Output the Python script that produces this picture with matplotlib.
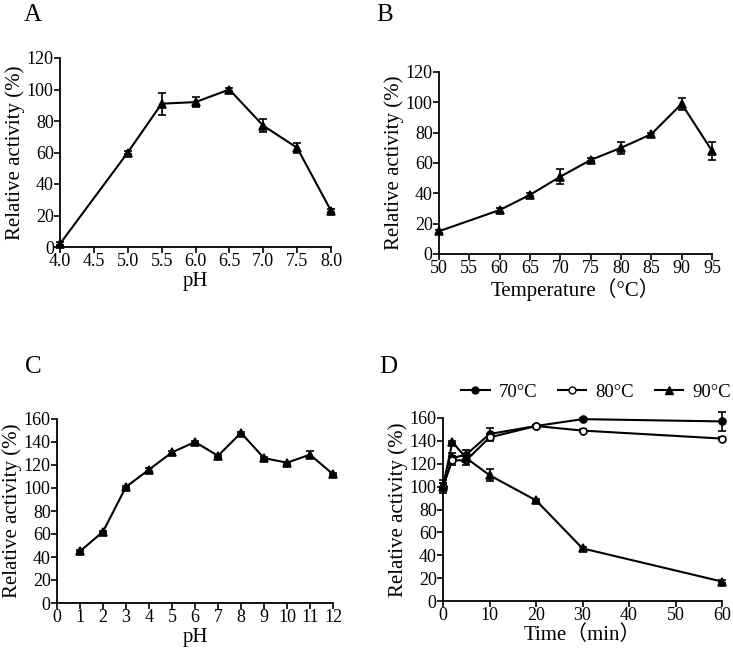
import numpy as np
import matplotlib
matplotlib.use("Agg")
import matplotlib.pyplot as plt

plt.rcParams["font.family"] = ["Liberation Serif", "Noto Sans CJK SC"]

# --- A: pH optimum ---
ph_a = [4.0, 5.0, 5.5, 6.0, 6.5, 7.0, 7.5, 8.0]
act_a = [2, 60, 91, 92, 100, 77, 63, 23]
err_a = [1, 1, 7, 3, 1, 4, 3, 1]
ph_a_ticks = [4.0, 4.5, 5.0, 5.5, 6.0, 6.5, 7.0, 7.5, 8.0]

# --- B: temperature optimum ---
temp_b = [50, 60, 65, 70, 75, 80, 85, 90, 95]
act_b = [15, 29, 39, 51, 62, 70, 79, 99, 68]
err_b = [1, 1, 1, 5, 1, 4, 1, 4, 6]
temp_b_ticks = [50, 55, 60, 65, 70, 75, 80, 85, 90, 95]

# --- C: pH stability ---
ph_c = [1, 2, 3, 4, 5, 6, 7, 8, 9, 10, 11, 12]
act_c = [45, 62, 101, 116, 131, 140, 128, 148, 126, 122, 129, 112]
err_c = [1, 1, 1, 1, 1, 1, 1, 1, 1, 1, 3, 1]

# --- D: thermostability ---
time_d = [0, 2, 5, 10, 20, 30, 60]
act_70 = [100, 125, 128, 146, 153, 159, 157]
err_70 = [3, 4, 4, 5, 1, 1, 8]
act_80 = [100, 123, 123, 143, 153, 149, 142]
err_80 = [6, 4, 4, 3, 1, 1, 1]
act_90 = [100, 139, 125, 110, 88, 46, 17]
err_90 = [3, 1, 3, 5, 1, 1, 1]

fig = plt.figure(figsize=(7.33, 6.53), dpi=100)
W, H = 733, 653


def make_ax(x0, x1, ytop, ybot):
    return fig.add_axes([x0 / W, 1 - ybot / H, (x1 - x0) / W, (ybot - ytop) / H])


def style(ax):
    for s in ["top", "right"]:
        ax.spines[s].set_visible(False)
    for s in ["left", "bottom"]:
        ax.spines[s].set_linewidth(1.3)
    ax.tick_params(direction="out", length=4, width=1.2, labelsize=13, pad=0.5)


def series(ax, x, y, e, marker="^", mfc="black", ms=6):
    ax.errorbar(x, y, yerr=e, color="black", lw=1.5, marker=marker, ms=ms,
                mfc=mfc, mec="black", mew=1.2, capsize=3, elinewidth=1.2,
                capthick=1.2, clip_on=False, zorder=3)


lab_kw = dict(fontsize=15)

axA = make_ax(60, 331, 58, 247)
series(axA, ph_a, act_a, err_a)
axA.set_xlim(4.0, 8.0)
axA.set_ylim(0, 120)
axA.set_xticks(ph_a_ticks)
axA.set_xticklabels([f"{v:.1f}" for v in ph_a_ticks])
axA.set_yticks(range(0, 121, 20))
axA.set_xlabel("pH", **lab_kw, labelpad=1)
axA.set_ylabel("Relative activity (%)", **lab_kw, labelpad=1)
style(axA)

axB = make_ax(439, 712, 72, 254)
series(axB, temp_b, act_b, err_b)
axB.set_xlim(50, 95)
axB.set_ylim(0, 120)
axB.set_xticks(temp_b_ticks)
axB.set_yticks(range(0, 121, 20))
axB.set_xlabel("Temperature（°C）", **lab_kw, labelpad=1)
axB.set_ylabel("Relative activity (%)", **lab_kw, labelpad=1)
style(axB)

axC = make_ax(57, 333, 419, 603)
series(axC, ph_c, act_c, err_c)
axC.set_xlim(0, 12)
axC.set_ylim(0, 160)
axC.set_xticks(range(0, 13))
axC.set_yticks(range(0, 161, 20))
axC.set_xlabel("pH", **lab_kw, labelpad=1)
axC.set_ylabel("Relative activity (%)", **lab_kw, labelpad=1)
style(axC)

axD = make_ax(443, 722, 418, 601)
series(axD, time_d, act_70, err_70, marker="o", ms=5)
series(axD, time_d, act_80, err_80, marker="o", mfc="white", ms=5)
series(axD, time_d, act_90, err_90, marker="^")
axD.set_xlim(0, 60)
axD.set_ylim(0, 160)
axD.set_xticks(range(0, 61, 10))
axD.set_yticks(range(0, 161, 20))
axD.set_xlabel("Time（min）", **lab_kw, labelpad=1)
axD.set_ylabel("Relative activity (%)", **lab_kw, labelpad=1)
style(axD)

handles = [
    plt.Line2D([], [], color="black", lw=1.5, marker="o", ms=5, mfc="black"),
    plt.Line2D([], [], color="black", lw=1.5, marker="o", ms=5, mfc="white"),
    plt.Line2D([], [], color="black", lw=1.5, marker="^", ms=6, mfc="black"),
]
fig.legend(handles, ["70°C", "80°C", "90°C"], loc="center right",
           bbox_to_anchor=(731 / W, 1 - 392 / H), ncol=3, frameon=False,
           fontsize=13.5, handlelength=1.5, handletextpad=0.5, columnspacing=1.1,
           borderaxespad=0, borderpad=0)

for lbl, x, y in [("A", 33, 15), ("B", 385, 15), ("C", 33, 367), ("D", 388, 367)]:
    fig.text(x / W, 1 - y / H, lbl, fontsize=18, ha="center", va="center")

fig.savefig("out.png", dpi=100)
